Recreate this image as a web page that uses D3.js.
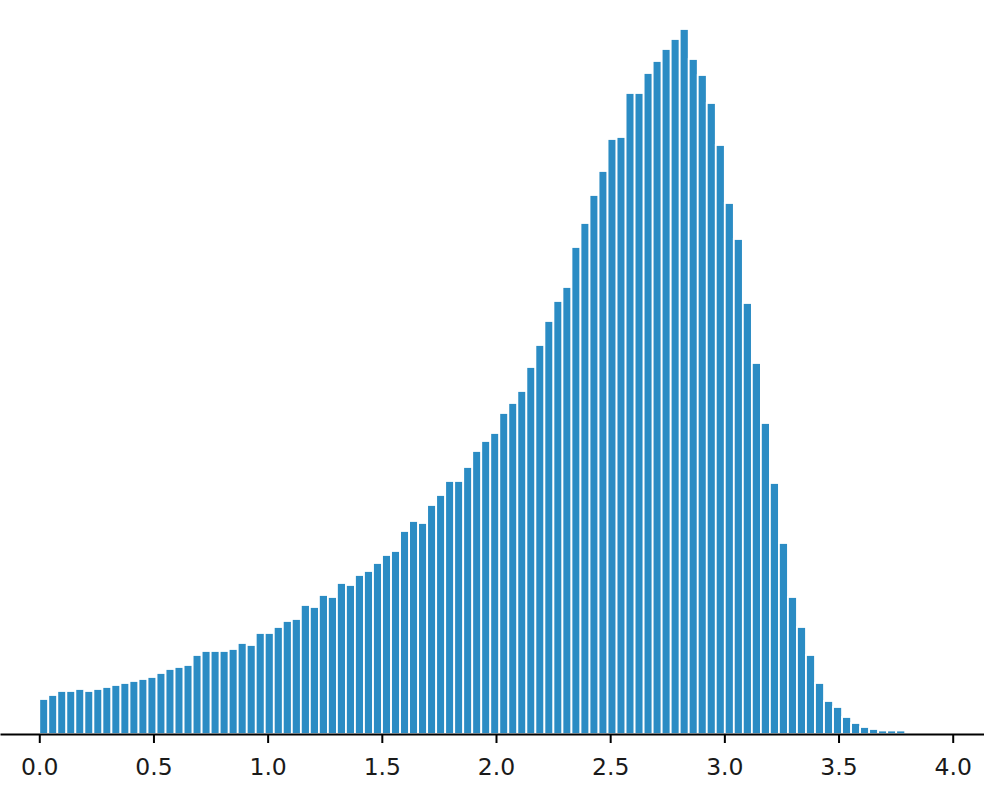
<!DOCTYPE html>
<html>
<head>
<meta charset="utf-8">
<script src="https://cdn.jsdelivr.net/npm/d3@7"></script>
<style>
    html, body { margin: 0; padding: 0; background: #fff; }
    svg { display: block; }
</style>
</head>
<body>
<svg id="Target" width="984" height="792"></svg>
<script>

// histogram: 100 bins from 0, only the first 96 have visible counts
const binStart = 0;
const binWidth = 0.0395;

const counts = [
    35, 39, 43, 43, 45, 43, 45, 47, 49, 51,
    53, 55, 57, 61, 65, 67, 69, 79, 83, 83,
    83, 85, 91, 89, 101, 101, 107, 113, 115, 129,
    127, 139, 137, 151, 149, 159, 163, 171, 179, 183,
    203, 213, 211, 229, 239, 253, 253, 267, 283, 293,
    301, 321, 331, 343, 367, 389, 413, 433, 447, 487,
    511, 539, 563, 595, 597, 641, 641, 661, 673, 685,
    695, 705, 675, 659, 631, 589, 531, 495, 431, 371,
    311, 251, 191, 137, 107, 79, 51, 33, 27, 17,
    11, 7, 5, 3.5, 3.5, 3.5, 0, 0, 0, 0
];

const tickValues = [0, 0.5, 1, 1.5, 2, 2.5, 3, 3.5, 4];

const bins = counts.map((c, i) => ({
    x0: binStart + i * binWidth,
    x1: binStart + (i + 1) * binWidth,
    count: c
}));

const width = 984;
const baseline = 734;

const x = d3.scaleLinear()
    .domain([-0.172, 4.137])
    .range([0, width]);

const y = d3.scaleLinear()
    .domain([0, d3.max(counts)])
    .range([baseline, 29]);

const svg = d3.select("#Target");

svg.append("g")
    .selectAll("rect")
    .data(bins.filter(d => d.count > 0))
    .enter()
    .append("rect")
    .attr("x", d => x(d.x0))
    .attr("width", d => x(d.x1) - x(d.x0))
    .attr("y", d => y(d.count))
    .attr("height", d => baseline - y(d.count))
    .attr("fill", "#2b8cc4")
    .attr("stroke", "#ffffff")
    .attr("stroke-width", 1.8);

const axis = svg.append("g")
    .attr("transform", `translate(0,${baseline})`)
    .call(d3.axisBottom(x)
        .tickValues(tickValues)
        .tickFormat(d3.format(".1f"))
        .tickSize(9)
        .tickSizeOuter(0)
        .tickPadding(15.5));

axis.select(".domain")
    .attr("stroke", "#000")
    .attr("stroke-width", 2);

axis.selectAll(".tick line")
    .attr("stroke", "#000")
    .attr("stroke-width", 2);

axis.selectAll(".tick text")
    .attr("fill", "#1a1a1a")
    .attr("font-family", "'DejaVu Sans', sans-serif")
    .attr("font-size", 23.5);

</script>
</body>
</html>
